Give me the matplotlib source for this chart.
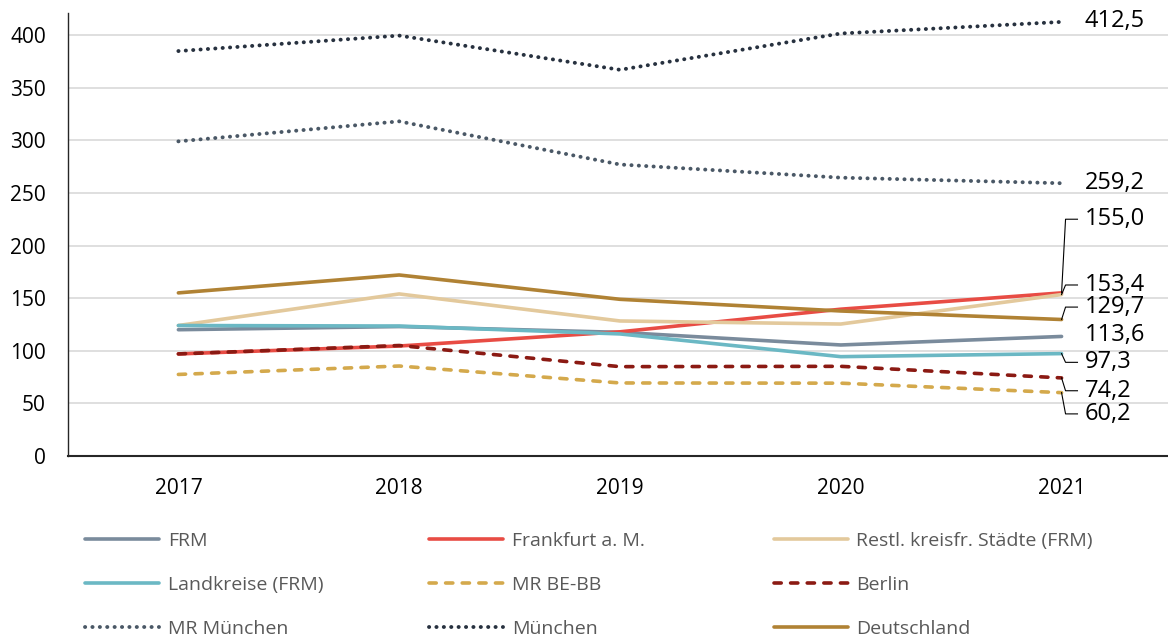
import matplotlib.pyplot as plt

plt.rcParams['font.family'] = ['Open Sans', 'DejaVu Sans']

years = ['2017', '2018', '2019', '2020', '2021']

frm = [120.0, 123.0, 117.5, 105.5, 113.6]
frankfurt = [97.0, 104.5, 118.0, 139.5, 155.0]
restl = [124.0, 154.0, 128.3, 125.4, 153.4]
landkreise = [124.0, 123.5, 116.0, 94.4, 97.3]
mr_bebb = [77.5, 85.5, 69.4, 69.2, 60.2]
berlin = [97.0, 105.0, 84.9, 85.2, 74.2]
mr_muenchen = [299.0, 318.0, 277.0, 264.5, 259.2]
muenchen = [384.8, 399.5, 367.0, 401.5, 412.5]
deutschland = [155.0, 172.0, 148.9, 137.8, 129.7]

names = ['FRM', 'Frankfurt a. M.', 'Restl. kreisfr. Städte (FRM)',
         'Landkreise (FRM)', 'MR BE-BB', 'Berlin',
         'MR München', 'München', 'Deutschland']
series = [frm, frankfurt, restl, landkreise, mr_bebb, berlin,
          mr_muenchen, muenchen, deutschland]
colors = ['#7a8b9c', '#e84c44', '#e3c99c', '#6bb8c4', '#d4a94c', '#8b1a13',
          '#4a5866', '#27313f', '#b08234']
kinds = ['solid', 'solid', 'solid', 'solid', 'dash', 'dash', 'dot', 'dot', 'solid']

# where the end label sits (y in data units)
label_pos = [115.0, 225.0, 162.5, 89.0, 40.0, 62.0, 259.2, 413.0, 141.5]

fig = plt.figure(figsize=(11.68, 6.39), dpi=100)
ax = fig.add_axes([0.0582, 0.2864, 0.9452, 0.6933])

x = list(range(len(years)))
handles = []
for vals, name, col, kind in zip(series, names, colors, kinds):
    kw = dict(color=col, solid_capstyle='round')
    if kind == 'solid':
        kw.update(linewidth=2.6, linestyle='-')
    elif kind == 'dash':
        kw.update(linewidth=2.6, linestyle=(0, (2.0, 2.6)), dash_capstyle='round')
    else:
        kw.update(linewidth=2.8, linestyle=(0, (0.05, 1.85)), dash_capstyle='round')
    (ln,) = ax.plot(x, vals, **kw)
    handles.append(ln)

# end labels with leader lines
last = len(years) - 1
for vals, ly in zip(series, label_pos):
    v = vals[-1]
    ax.text(last + 0.104, ly, f'{v:.1f}'.replace('.', ','), fontsize=17,
            va='center', ha='left', color='black', clip_on=False)
    if abs(ly - v) > 3:
        ax.plot([last, last + 0.018, last + 0.072], [v, ly, ly],
                color='black', linewidth=0.8, clip_on=False, zorder=5)

ax.set_xlim(-0.5, 4.5)
ax.set_ylim(0, 421)
ax.set_yticks(range(0, 401, 50))
ax.set_xticks(x)
ax.set_xticklabels(years)
ax.tick_params(axis='both', length=0, labelsize=15, colors='black')
ax.tick_params(axis='x', pad=16)
ax.tick_params(axis='y', pad=16)
ax.yaxis.grid(True, color='#d9d9d9', linewidth=1.2)
ax.set_axisbelow(True)
for s in ['top', 'right']:
    ax.spines[s].set_visible(False)
ax.spines['left'].set_color('#262626')
ax.spines['left'].set_linewidth(1.0)
ax.spines['bottom'].set_color('#262626')
ax.spines['bottom'].set_linewidth(1.5)

# legend: three fixed columns, filled row by row
col_x = [0.0728, 0.3675, 0.6625]
for c in range(3):
    hs = [handles[r * 3 + c] for r in range(3)]
    ls = [names[r * 3 + c] for r in range(3)]
    fig.legend(hs, ls, loc='center left', bbox_to_anchor=(col_x[c], 0.0845),
               frameon=False, fontsize=14, handlelength=3.8,
               handletextpad=0.45, labelspacing=1.35, borderpad=0,
               borderaxespad=0, labelcolor='#595959')

fig.savefig('out.png', dpi=100)
